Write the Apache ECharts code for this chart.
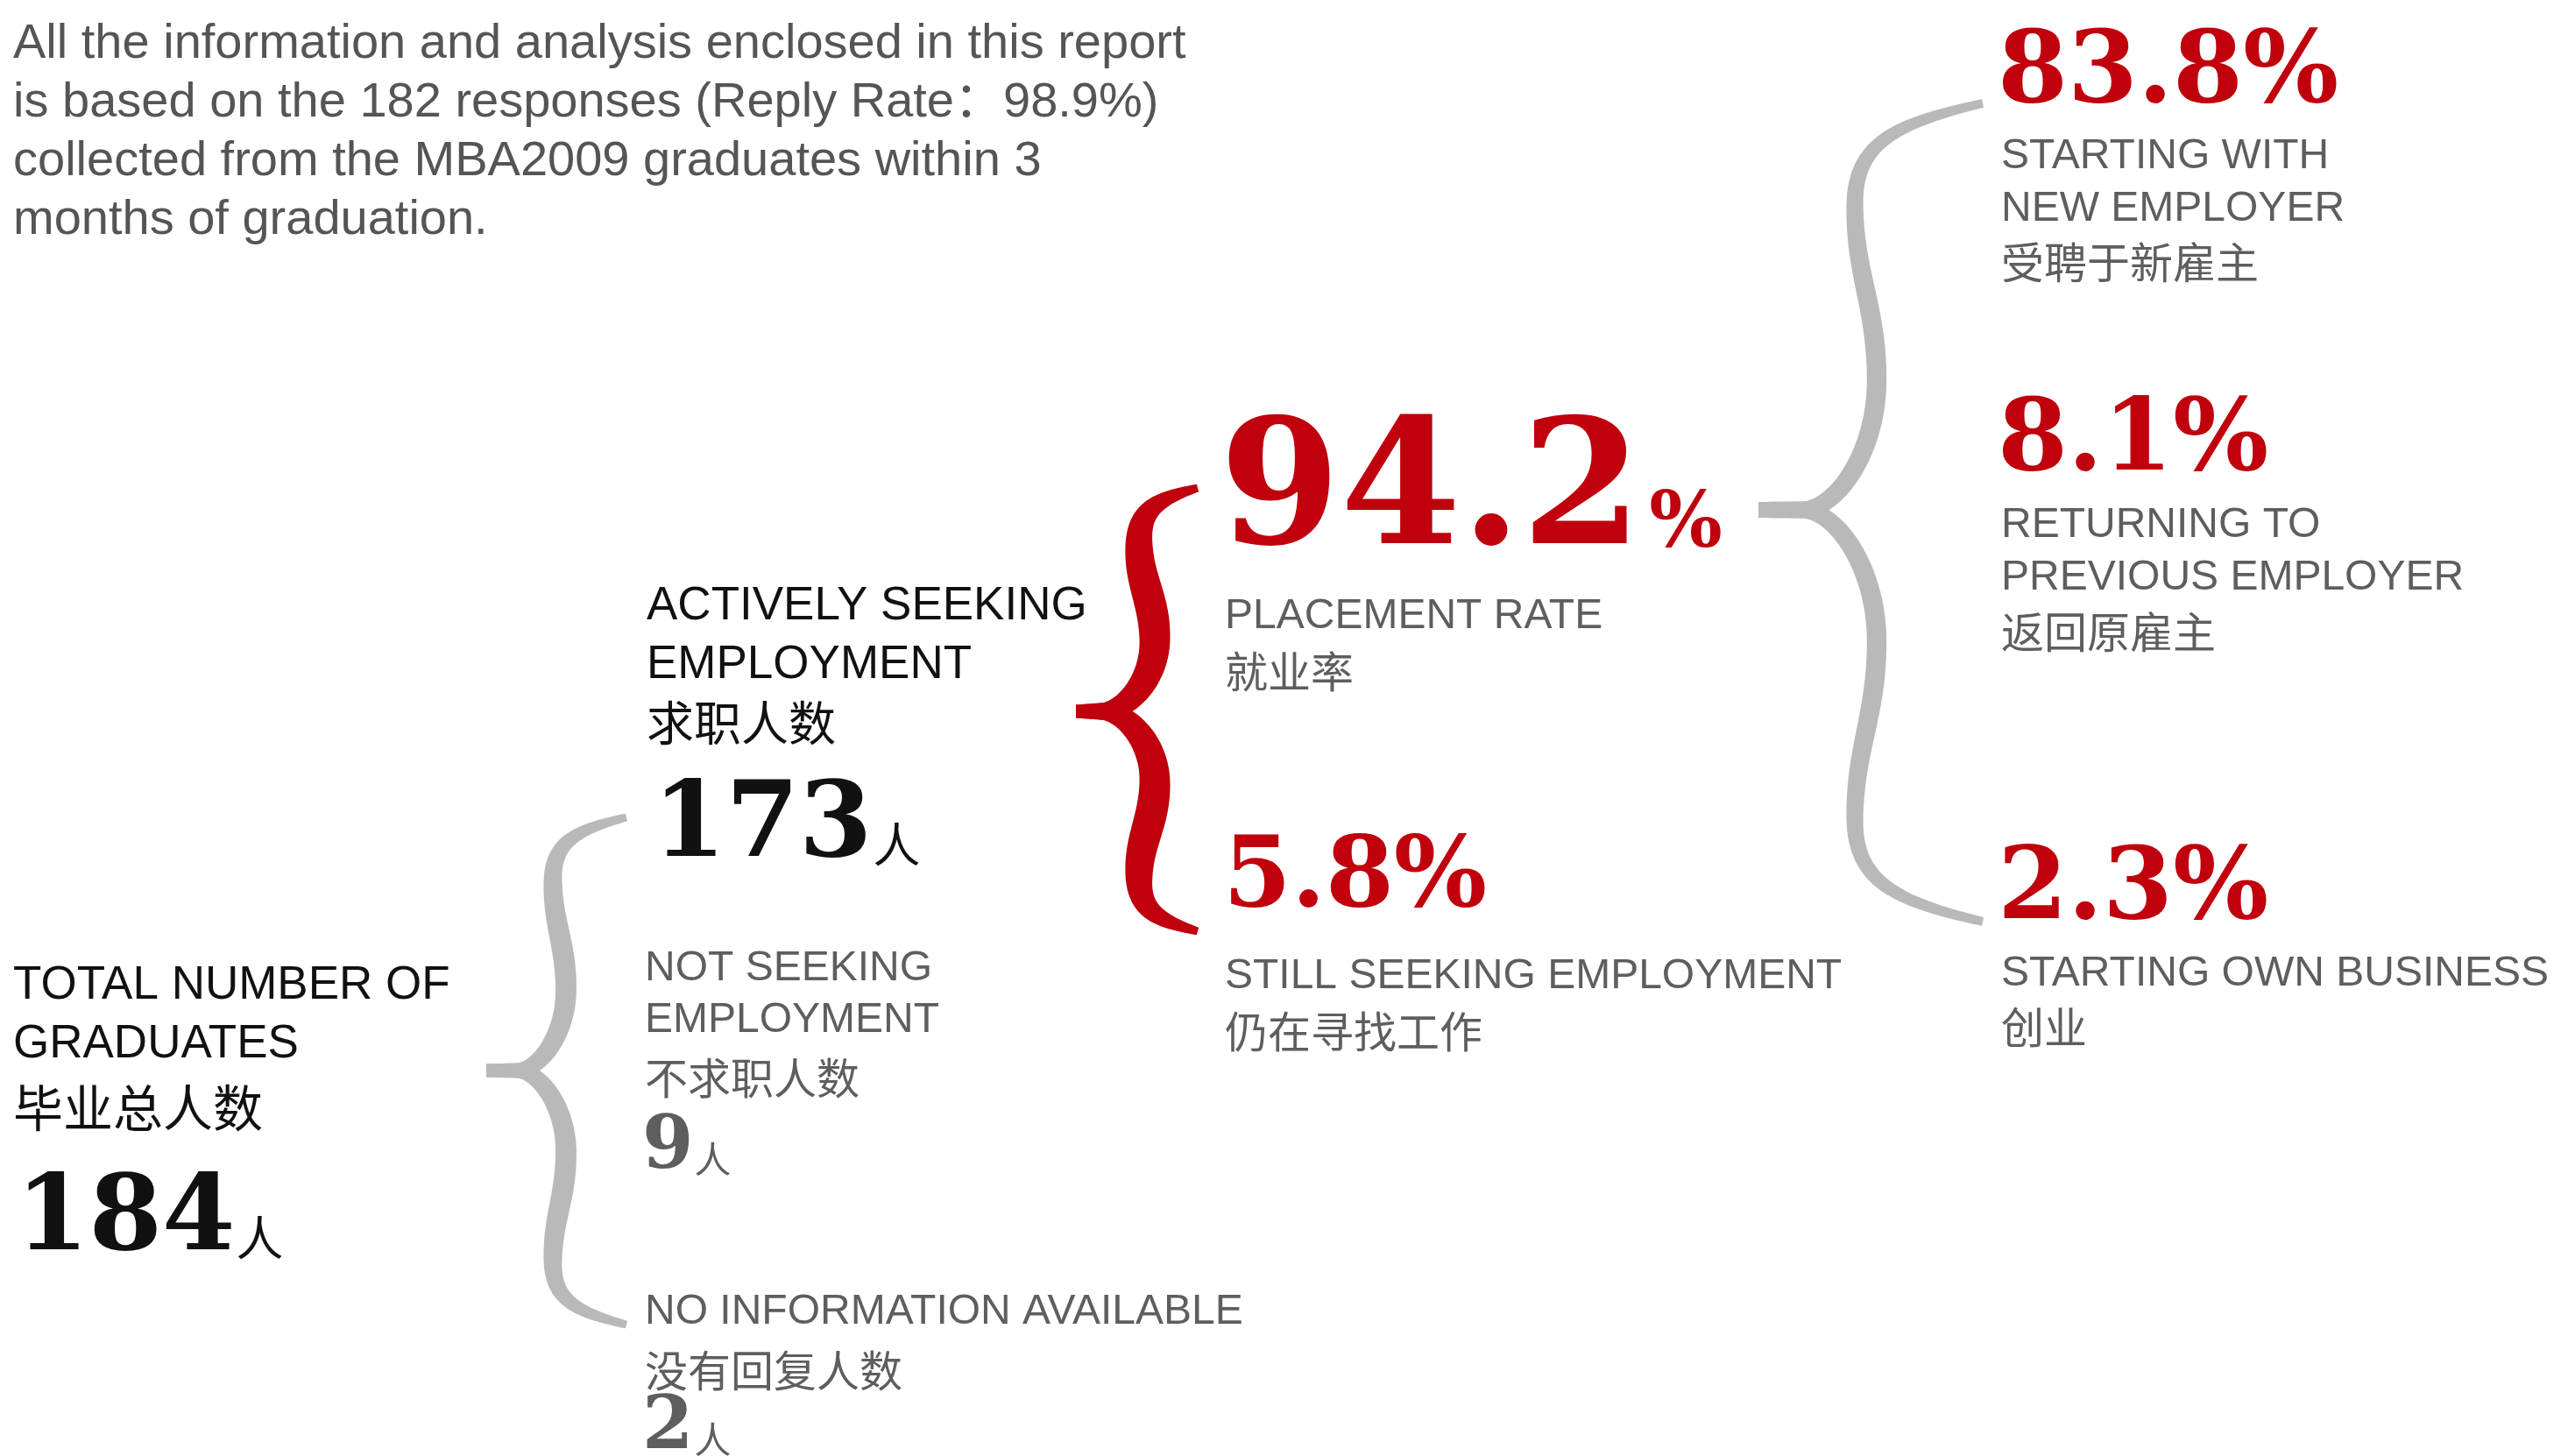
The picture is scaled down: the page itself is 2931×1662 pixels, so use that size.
<!DOCTYPE html>
<html>
<head>
<meta charset="utf-8">
<title>MBA2009 graduates placement</title>
<script src="https://cdn.jsdelivr.net/npm/echarts@6.0.0/dist/echarts.min.js"></script>
<style>
html, body { margin: 0; padding: 0; background: #fff; }
#chart { width: 2931px; height: 1662px; }
</style>
</head>
<body>
<div id="chart"></div>
<script>
// ---- data ----
const introLines = [
  'All the information and analysis enclosed in this report',
  'is based on the 182 responses (Reply Rate：98.9%)',
  'collected from the MBA2009 graduates within 3',
  'months of graduation.'
];

const headLabels = [['TOTAL NUMBER OF', 'GRADUATES'], ['ACTIVELY SEEKING', 'EMPLOYMENT'], ['NOT SEEKING', 'EMPLOYMENT'], ['NO INFORMATION AVAILABLE']];
const headLabelsCn = ['毕业总人数', '求职人数', '不求职人数', '没有回复人数'];
const headCounts = [184, 173, 9, 2];

const seekLabels = [['PLACEMENT RATE'], ['STILL SEEKING EMPLOYMENT']];
const seekLabelsCn = ['就业率', '仍在寻找工作'];
const seekPcts = [94.2, 5.8];

const placedLabels = [['STARTING WITH', 'NEW EMPLOYER'], ['RETURNING TO', 'PREVIOUS EMPLOYER'], ['STARTING OWN BUSINESS']];
const placedLabelsCn = ['受聘于新雇主', '返回原雇主', '创业'];
const placedPcts = [83.8, 8.1, 2.3];

// ---- look ----
const SANS = '"Liberation Sans", Arial, Helvetica, "Noto Sans CJK SC", sans-serif';
const CJK = '"Noto Sans CJK SC", sans-serif';
const NUM = '"DejaVu Serif", serif';
const RED = '#c0000d';
const BLACK = '#111111';
const GREY = '#5e5e5e';
const BRACE_GREY = '#b9b9b9';
// canvas "middle" sits this many em above the baseline
const MID = { sans: 0.31, num: 0.297, cjk: 0.30 };

const chart = echarts.init(document.getElementById('chart'));
const ctx = document.createElement('canvas').getContext('2d');

function measure(s, size, family, weight) {
  ctx.font = (weight || 'normal') + ' ' + size + 'px ' + family;
  return ctx.measureText(s).width;
}

// y is the vertical middle of the text
function txt(x, y, s, size, color, family, weight) {
  return {
    type: 'text',
    silent: true,
    style: {
      x: x, y: y, text: s, fill: color,
      fontSize: size, fontFamily: family, fontWeight: weight || 'normal',
      align: 'left', verticalAlign: 'middle'
    }
  };
}

// big number sitting on a baseline, followed by a smaller suffix (人 / %)
function numWithSuffix(x, base, num, size, suffix, sufSize, sufFamily, color, gap) {
  const w = measure(num, size, NUM, 'bold');
  const sufIsNum = sufFamily === NUM;
  return [
    txt(x, base - MID.num * size, num, size, color, NUM, 'bold'),
    txt(x + w + (gap || 0), base - (sufIsNum ? MID.num : MID.cjk) * sufSize, suffix, sufSize, color, sufFamily, sufIsNum ? 'bold' : 'normal')
  ];
}

// ---- braces ----
function cubic(p0, p1, p2, p3, n, out) {
  for (let i = out.length ? 1 : 0; i <= n; i++) {
    const t = i / n, m = 1 - t;
    out.push([
      m * m * m * p0[0] + 3 * m * m * t * p1[0] + 3 * m * t * t * p2[0] + t * t * t * p3[0],
      m * m * m * p0[1] + 3 * m * m * t * p1[1] + 3 * m * t * t * p2[1] + t * t * t * p3[1]
    ]);
  }
}

function braceHalf(b, dir) {
  const h = dir > 0 ? b.ym - b.y0 : b.y1 - b.ym;
  const Y = f => b.ym - dir * h * (1 - f);
  const E = [b.xe, Y(0)];
  const P1 = [b.xs, Y(0.25)];
  const P2 = [b.xs + b.d, Y(0.68)];
  const S = [b.xt + b.stub, Y(1)];
  const T = [b.xt, Y(1)];
  const pts = [];
  cubic(E, [b.xs + 0.3 * (b.xe - b.xs), Y(0.05)], [b.xs, Y(0.1)], P1, 30, pts);
  cubic(P1, [b.xs, Y(0.42)], [b.xs + b.d, Y(0.5)], P2, 30, pts);
  cubic(P2, [b.xs + b.d, Y(0.86)], [S[0] + 0.45 * (P2[0] - S[0]), Y(1)], S, 30, pts);
  for (let i = 1; i <= 6; i++) pts.push([S[0] + (T[0] - S[0]) * i / 6, S[1]]);

  const n = pts.length;
  const left = [], right = [];
  for (let i = 0; i < n; i++) {
    const a = pts[Math.max(0, i - 1)], c = pts[Math.min(n - 1, i + 1)];
    let tx = c[0] - a[0], ty = c[1] - a[1];
    const len = Math.hypot(tx, ty) || 1;
    tx /= len; ty /= len;
    const u = i / (n - 1);
    const w = b.we + (b.wt - b.we) * u + (b.wm - (b.we + b.wt) / 2) * Math.sin(Math.PI * u);
    left.push([pts[i][0] - ty * w / 2, pts[i][1] + tx * w / 2]);
    right.push([pts[i][0] + ty * w / 2, pts[i][1] - tx * w / 2]);
  }
  return left.concat(right.reverse());
}

function brace(b, color) {
  return [1, -1].map(dir => ({
    type: 'polygon',
    silent: true,
    shape: { points: braceHalf(b, dir) },
    style: { fill: color }
  }));
}

const braces = [
  { b: { xe: 715, y0: 933, ym: 1222, y1: 1512, xs: 631, d: 15, xt: 555, stub: 35, we: 9, wm: 24, wt: 15 }, color: BRACE_GREY },
  { b: { xe: 1367, y0: 557, ym: 812, y1: 1063, xs: 1300, d: 18, xt: 1228, stub: 30, we: 9, wm: 36, wt: 15 }, color: RED },
  { b: { xe: 2263, y0: 118, ym: 582, y1: 1052, xs: 2117, d: 25, xt: 2007, stub: 50, we: 10, wm: 22, wt: 18 }, color: BRACE_GREY }
];

// ---- layout ----
const els = [];
braces.forEach(o => els.push(...brace(o.b, o.color)));

// intro paragraph
introLines.forEach((s, i) => els.push(txt(15, 51 + i * 66.7, s, 56, '#555555', SANS)));

// head counts
const headLayout = [
  { x: 15, rows: [1125, 1192], cn: 1264, numX: 18, base: 1430, lab: 53, cnSize: 57, numSize: 120, sufSize: 54, color: BLACK },
  { x: 738, rows: [692, 759], cn: 825, numX: 745, base: 981, lab: 53, cnSize: 54, numSize: 120, sufSize: 54, color: BLACK },
  { x: 736, rows: [1106, 1165], cn: 1230, numX: 733, base: 1336, lab: 48, cnSize: 49, numSize: 84, sufSize: 42, color: GREY },
  { x: 736, rows: [1498], cn: 1564, numX: 733, base: 1656, lab: 48, cnSize: 49, numSize: 84, sufSize: 42, color: GREY }
];
headLabels.forEach((rows, i) => {
  const L = headLayout[i];
  rows.forEach((s, r) => els.push(txt(L.x, L.rows[r], s, L.lab, L.color, SANS)));
  els.push(txt(L.x, L.cn, headLabelsCn[i], L.cnSize, L.color, CJK));
  els.push(...numWithSuffix(L.numX, L.base, String(headCounts[i]), L.numSize, '人', L.sufSize, CJK, L.color, 1));
});

// placement rate / still seeking
const seekLayout = [
  { x: 1392, base: 627, rows: [704], cn: 766 },
  { x: 1396, base: 1038, rows: [1115], cn: 1177 }
];
seekPcts.forEach((v, i) => {
  const L = seekLayout[i];
  if (i === 0) {
    els.push(...numWithSuffix(L.x, L.base, v.toFixed(1), 198, '%', 88, NUM, RED, 8));
  } else {
    els.push(txt(L.x, L.base - MID.num * 112, v.toFixed(1) + '%', 112, RED, NUM, 'bold'));
  }
  seekLabels[i].forEach((s, r) => els.push(txt(1398, L.rows[r], s, 48, GREY, SANS)));
  els.push(txt(1398, L.cn, seekLabelsCn[i], 49, GREY, CJK));
});

// breakdown of the placed graduates
const placedLayout = [
  { base: 120, rows: [179, 239], cn: 299 },
  { base: 540, rows: [600, 660], cn: 721 },
  { base: 1052, rows: [1112], cn: 1172 }
];
placedPcts.forEach((v, i) => {
  const L = placedLayout[i];
  els.push(txt(2280, L.base - MID.num * 115, v.toFixed(1) + '%', 115, RED, NUM, 'bold'));
  placedLabels[i].forEach((s, r) => els.push(txt(2284, L.rows[r], s, 48, GREY, SANS)));
  els.push(txt(2284, L.cn, placedLabelsCn[i], 49, GREY, CJK));
});

chart.setOption({
  backgroundColor: '#ffffff',
  animation: false,
  graphic: { elements: els }
});
</script>
</body>
</html>
